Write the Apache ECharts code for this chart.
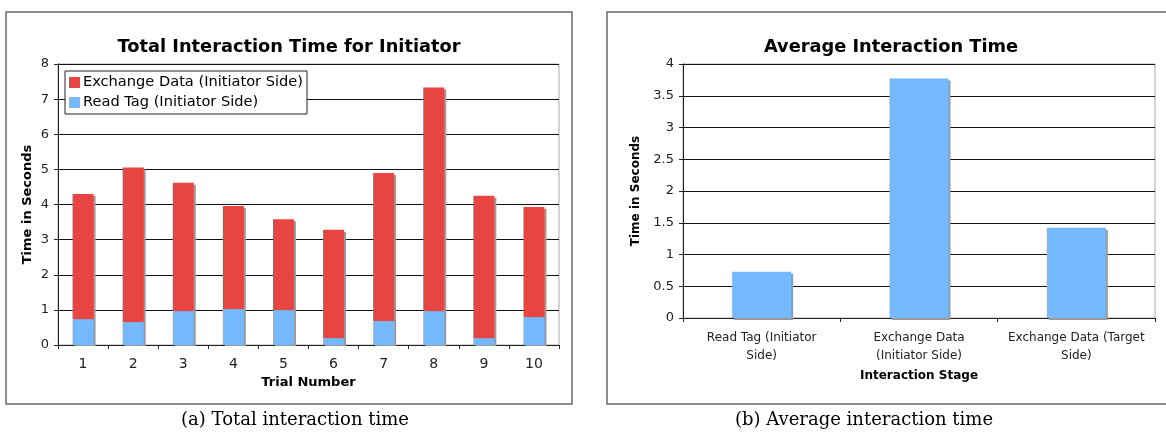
<!DOCTYPE html>
<html><head><meta charset="utf-8">
<script src="https://cdn.jsdelivr.net/npm/echarts@6/dist/echarts.min.js"></script>
<style>html,body{margin:0;padding:0;background:#fff}#c{width:1166px;height:432px}</style>
</head><body><div id="c"></div><script>
// Left chart: Total interaction time per trial (stacked)
const trials = ['1', '2', '3', '4', '5', '6', '7', '8', '9', '10'];
const readTag = [0.73, 0.65, 0.96, 1.02, 0.99, 0.19, 0.68, 0.96, 0.19, 0.79];
const exchangeData = [3.57, 4.40, 3.66, 2.94, 2.59, 3.09, 4.22, 6.37, 4.06, 3.14];
const seriesNames = ['Exchange Data (Initiator Side)', 'Read Tag (Initiator Side)'];
// Right chart: Average interaction time per stage
const stages = ['Read Tag (Initiator\nSide)', 'Exchange Data\n(Initiator Side)', 'Exchange Data (Target\nSide)'];
const avgTime = [0.73, 3.77, 1.42];
const titles = ['Total Interaction Time for Initiator', 'Average Interaction Time'];
const captions = ['(a) Total interaction time', '(b) Average interaction time'];

const FONT = '"DejaVu Sans", sans-serif';
const SERIF = '"DejaVu Serif", serif';
const RED = '#E84542', BLUE = '#74B8FE', SHADOW = '#9a9a9a', AX = '#222';

const chart = echarts.init(document.getElementById('c'), null, {renderer: 'canvas'});

function yAxisCfg(gridIndex, max, interval, nameGap, nameSize) {
  return {
    type: 'value', gridIndex, min: 0, max, interval,
    name: 'Time in Seconds', nameLocation: 'middle', nameGap,
    nameTextStyle: {fontFamily: FONT, fontWeight: 'bold', fontSize: nameSize, color: '#000'},
    axisLine: {show: true, lineStyle: {color: AX, width: 1}},
    axisTick: {show: true, length: 4, lineStyle: {color: AX}},
    axisLabel: {fontFamily: FONT, fontSize: 13, color: '#222', margin: 9},
    splitLine: {show: true, lineStyle: {color: '#111', width: 1}}
  };
}

function txt(x, y, text, size, weight, family) {
  return {type: 'text', x, y, style: {text, fontSize: size, fontWeight: weight, fontFamily: family, fill: '#000',
    textAlign: 'center', textVerticalAlign: 'middle', align: 'center', verticalAlign: 'middle'}};
}

const option = {
  animation: false,
  backgroundColor: '#fff',
  textStyle: {fontFamily: FONT},
  grid: [
    {left: 58, top: 64, right: 607, bottom: 87, show: true, borderColor: '#aaa', borderWidth: 1, containLabel: false},
    {left: 683, top: 64, right: 11, bottom: 114, show: true, borderColor: '#aaa', borderWidth: 1, containLabel: false}
  ],
  legend: {
    data: seriesNames, orient: 'vertical', left: 65, top: 71,
    itemWidth: 11, itemHeight: 11, itemGap: 5, icon: 'rect',
    padding: [4, 4, 4, 4], borderColor: AX, borderWidth: 1, backgroundColor: '#fff',
    textStyle: {fontFamily: FONT, fontSize: 14.6, color: '#000', padding: [0, 0, 0, -2]}
  },
  xAxis: [
    {
      type: 'category', gridIndex: 0, data: trials,
      name: 'Trial Number', nameLocation: 'middle', nameGap: 30,
      nameTextStyle: {fontFamily: FONT, fontWeight: 'bold', fontSize: 13, color: '#000'},
      axisLine: {lineStyle: {color: AX}},
      axisTick: {show: true, length: 4, alignWithLabel: false, lineStyle: {color: AX}},
      axisLabel: {fontFamily: FONT, fontSize: 14, color: '#222', margin: 12}
    },
    {
      type: 'category', gridIndex: 1, data: stages,
      name: 'Interaction Stage', nameLocation: 'middle', nameGap: 50,
      nameTextStyle: {fontFamily: FONT, fontWeight: 'bold', fontSize: 12, color: '#000'},
      axisLine: {lineStyle: {color: AX}},
      axisTick: {show: true, length: 4, alignWithLabel: false, lineStyle: {color: AX}},
      axisLabel: {fontFamily: FONT, fontSize: 12, color: '#222', margin: 11, lineHeight: 18, interval: 0}
    }
  ],
  yAxis: [
    yAxisCfg(0, 8, 1, 24, 13),
    yAxisCfg(1, 4, 0.5, 41, 12)
  ],
  series: [
    {
      name: seriesNames[1], type: 'bar', stack: 'total', xAxisIndex: 0, yAxisIndex: 0,
      data: readTag, barWidth: 21, z: 4,
      itemStyle: {color: BLUE, shadowColor: SHADOW, shadowOffsetX: 2, shadowOffsetY: 1, shadowBlur: 0}
    },
    {
      name: seriesNames[0], type: 'bar', stack: 'total', xAxisIndex: 0, yAxisIndex: 0,
      data: exchangeData, barWidth: 21, z: 3,
      itemStyle: {color: RED, shadowColor: SHADOW, shadowOffsetX: 2, shadowOffsetY: 2, shadowBlur: 0}
    },
    {
      name: 'Average', type: 'bar', xAxisIndex: 1, yAxisIndex: 1,
      data: avgTime, barWidth: 59,
      itemStyle: {color: BLUE, shadowColor: SHADOW, shadowOffsetX: 2, shadowOffsetY: 2, shadowBlur: 0}
    }
  ],
  graphic: [
    {type: 'rect', shape: {x: 6, y: 12, width: 566, height: 392}, style: {fill: 'none', stroke: '#6a6a6a', lineWidth: 1.5}, z: -1},
    {type: 'rect', shape: {x: 607, y: 12, width: 580, height: 392}, style: {fill: 'none', stroke: '#6a6a6a', lineWidth: 1.5}, z: -1},
    txt(289, 47, titles[0], 17.8, 'bold', FONT),
    txt(891, 47, titles[1], 17.8, 'bold', FONT),
    txt(295, 420, captions[0], 18, 'normal', SERIF),
    txt(864, 420, captions[1], 18, 'normal', SERIF)
  ]
};
chart.setOption(option);
</script></body></html>
